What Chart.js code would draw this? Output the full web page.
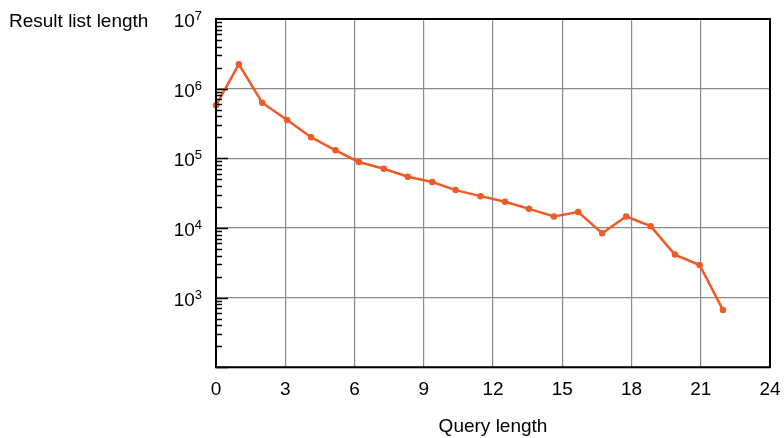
<!DOCTYPE html>
<html lang="en">
<head>
<meta charset="UTF-8">
<title>Result list length by query length</title>
<script src="https://cdn.jsdelivr.net/npm/chart.js"></script>
<style>
  html, body { margin: 0; padding: 0; background: #fff; }
  canvas { display: block; }
</style>
</head>
<body>
<canvas id="chart" width="784" height="438"></canvas>
<script>
// values
const queryLength = [0, 0.99, 2.0, 3.08, 4.12, 5.18, 6.19, 7.27, 8.31, 9.37, 10.38,
  11.46, 12.52, 13.56, 14.64, 15.69, 16.73, 17.77, 18.83, 19.88, 20.95, 21.96];
const resultCount = [577000, 2240000, 629000, 354000, 201000, 130000, 88500, 70800, 54300, 45600, 34900,
  28600, 23700, 18800, 14600, 16900, 8390, 14600, 10600, 4140, 2930, 665];
const xTicks = [0, 3, 6, 9, 12, 15, 18, 21, 24];
const yDecades = [2, 3, 4, 5, 6, 7];
const yTitle = 'Result list length';
const xTitle = 'Query length';

const FONT = '"Liberation Sans", Arial, Helvetica, sans-serif';
const ORANGE = '#f15a24';

// frame, inner minor ticks on the left axis, power-of-ten labels and axis titles
const frame = {
  id: 'frame',
  afterDraw(chart) {
    const { ctx, chartArea: a, scales: { x, y } } = chart;
    ctx.save();
    ctx.strokeStyle = '#000';
    ctx.lineWidth = 1.5;
    for (let d = yDecades[0]; d < yDecades[yDecades.length - 1]; d++) {
      for (let m = 1; m <= 9; m++) {
        const py = Math.round(y.getPixelForValue(m * Math.pow(10, d))) + 0.5;
        const len = m === 1 ? 12 : 6;
        ctx.beginPath();
        ctx.moveTo(a.left, py);
        ctx.lineTo(a.left + len, py);
        ctx.stroke();
      }
    }
    ctx.lineWidth = 2;
    ctx.strokeRect(a.left, a.top, a.right - a.left, a.bottom - a.top);

    ctx.fillStyle = '#000';
    ctx.textBaseline = 'alphabetic';
    for (const d of yDecades) {
      if (d === yDecades[0]) continue;
      const py = y.getPixelForValue(Math.pow(10, d));
      ctx.font = '13px ' + FONT;
      ctx.textAlign = 'right';
      ctx.fillText(String(d), a.left - 14, py + 1);
      const ew = ctx.measureText(String(d)).width;
      ctx.font = '19px ' + FONT;
      ctx.fillText('10', a.left - 14 - ew, py + 8);
    }
    ctx.font = '19px ' + FONT;
    ctx.textAlign = 'left';
    ctx.fillText(yTitle, 9, 27);
    ctx.textAlign = 'center';
    ctx.fillText(xTitle, x.getPixelForValue(12), 432);
    ctx.restore();
  }
};

new Chart(document.getElementById('chart'), {
  type: 'line',
  data: {
    datasets: [{
      data: queryLength.map((q, i) => ({ x: q, y: resultCount[i] })),
      borderColor: ORANGE,
      backgroundColor: ORANGE,
      borderWidth: 2.5,
      pointRadius: 2,
      pointHoverRadius: 2,
      tension: 0,
      clip: false
    }]
  },
  options: {
    responsive: false,
    animation: false,
    events: [],
    layout: { padding: { left: 216, right: 14, top: 19, bottom: 26 } },
    plugins: { legend: { display: false }, tooltip: { enabled: false } },
    scales: {
      x: {
        type: 'linear',
        min: 0,
        max: 24,
        afterBuildTicks: s => { s.ticks = xTicks.map(v => ({ value: v })); },
        afterFit: s => { s.paddingLeft = 0; s.paddingRight = 0; },
        grid: { color: '#8a8a8a', lineWidth: 1.2, drawTicks: false },
        border: { display: false },
        ticks: { color: '#000', font: { family: FONT, size: 19 }, padding: 11, maxRotation: 0 }
      },
      y: {
        type: 'logarithmic',
        min: 100,
        max: 1e7,
        afterBuildTicks: s => { s.ticks = yDecades.map(d => ({ value: Math.pow(10, d) })); },
        grid: { color: '#8a8a8a', lineWidth: 1.2, drawTicks: false },
        border: { display: false },
        ticks: { display: false }
      }
    }
  },
  plugins: [frame]
});
</script>
</body>
</html>
